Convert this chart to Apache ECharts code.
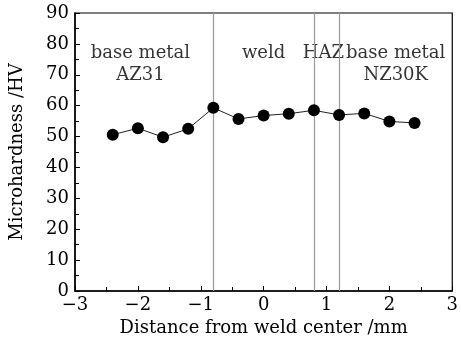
<!DOCTYPE html>
<html><head><meta charset="utf-8">
<script src="https://cdn.jsdelivr.net/npm/echarts@6/dist/echarts.min.js"></script>
<style>html,body{margin:0;padding:0;background:#fff}#c{width:461px;height:343px}</style>
</head><body><div id="c"></div>
<script>
const distances = [-2.4, -2.0, -1.6, -1.2, -0.8, -0.4, 0, 0.4, 0.8, 1.2, 1.6, 2.0, 2.4];
const hardness = [50.6, 52.7, 49.8, 52.5, 59.3, 55.7, 56.8, 57.4, 58.5, 57.0, 57.5, 54.9, 54.4];
const boundaries = [-0.8, 0.8, 1.2];
const regionLabels = [
  {text: 'base metal\nAZ31', x: -1.96, y: 73.3},
  {text: 'weld', x: 0, y: 76.8},
  {text: 'HAZ', x: 0.95, y: 76.8},
  {text: 'base metal\nNZ30K', x: 2.1, y: 73.3}
];
const FONT = 'DejaVu Serif';
const chart = echarts.init(document.getElementById('c'), null, {renderer: 'canvas'});
const minus = v => (v < 0 ? '\u2212' + Math.abs(v) : String(v));
chart.setOption({
  animation: false,
  backgroundColor: '#fff',
  grid: {left: 74, right: 2, top: 13, bottom: 52, show: true, borderColor: '#000', borderWidth: 1.2, containLabel: false},
  xAxis: {
    type: 'value', min: -3, max: 3, interval: 1,
    name: 'Distance from weld center /mm', nameLocation: 'middle', nameGap: 27,
    nameTextStyle: {fontFamily: FONT, fontSize: 18, color: '#000'},
    axisLine: {show: true, onZero: false, lineStyle: {color: '#000', width: 1.5}},
    axisTick: {show: true, inside: true, length: 5, lineStyle: {color: '#000'}},
    minorTick: {show: true, splitNumber: 2, length: 4, lineStyle: {color: '#000'}},
    splitLine: {show: false},
    axisLabel: {fontFamily: FONT, fontSize: 18, color: '#000', margin: 5, formatter: minus}
  },
  yAxis: {
    type: 'value', min: 0, max: 90, interval: 10,
    name: 'Microhardness /HV', nameLocation: 'middle', nameGap: 49, nameRotate: 90,
    nameTextStyle: {fontFamily: FONT, fontSize: 18, color: '#000'},
    axisLine: {show: true, onZero: false, lineStyle: {color: '#000', width: 1.5}},
    axisTick: {show: true, inside: true, length: 5, lineStyle: {color: '#000'}},
    minorTick: {show: true, splitNumber: 2, length: 4, lineStyle: {color: '#000'}},
    splitLine: {show: false},
    axisLabel: {fontFamily: FONT, fontSize: 18, color: '#000', margin: 6}
  },
  series: [
    {
      type: 'line',
      data: distances.map((d, i) => [d, hardness[i]]),
      symbol: 'circle', symbolSize: 12,
      itemStyle: {color: '#000'},
      lineStyle: {color: '#222', width: 1},
      z: 5,
      markLine: {
        silent: true, symbol: 'none', label: {show: false},
        lineStyle: {color: '#999', width: 1.2, type: 'solid'},
        data: boundaries.map(b => ({xAxis: b}))
      }
    },
    {
      type: 'scatter', symbolSize: 0, silent: true,
      data: regionLabels.map(r => ({value: [r.x, r.y], label: {formatter: r.text}})),
      label: {show: true, position: 'inside', fontFamily: FONT, fontSize: 18, color: '#000', lineHeight: 22, align: 'center'}
    }
  ]
});
</script></body></html>
